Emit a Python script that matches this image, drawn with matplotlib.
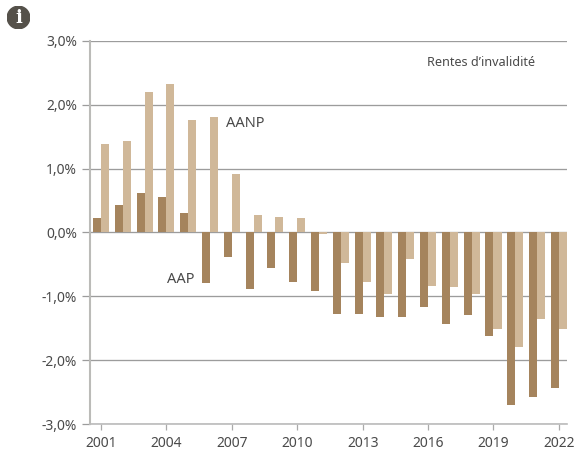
import matplotlib.pyplot as plt
import numpy as np
from matplotlib.patches import Circle

years = np.arange(2001, 2023)
aap = [0.22, 0.43, 0.62, 0.55, 0.30, -0.79, -0.38, -0.89, -0.55, -0.77, -0.91,
       -1.27, -1.27, -1.32, -1.33, -1.16, -1.43, -1.30, -1.62, -2.71, -2.57, -2.43]
aanp = [1.38, 1.44, 2.20, 2.33, 1.77, 1.81, 0.92, 0.28, 0.24, 0.23, -0.02,
        -0.47, -0.78, -0.97, -0.41, -0.84, -0.86, -0.96, -1.51, -1.79, -1.35, -1.51]
yticks = [3, 2, 1, 0, -1, -2, -3]
ylabels = ['3,0%', '2,0%', '1,0%', '0,0%', '-1,0%', '-2,0%', '-3,0%']
xticks = [2001, 2004, 2007, 2010, 2013, 2016, 2019, 2022]

plt.rcParams['font.family'] = ['Noto Sans', 'DejaVu Sans']
text_col = '#4a4a4a'

fig = plt.figure(figsize=(5.74, 4.5), dpi=100)
ax = fig.add_axes([90 / 574, 26 / 450, 477 / 574, 383 / 450])

w = 0.367
ax.yaxis.grid(True, color='#9c9c9c', lw=0.95)
ax.set_axisbelow(True)
ax.bar(years - w / 2, aap, w, color='#a5845d', zorder=3)
ax.bar(years + w / 2, aanp, w, color='#d0b899', zorder=2)

ax.set_xlim(2000.5, 2022.37)
ax.set_ylim(-3, 3)
ax.set_yticks(yticks)
ax.set_yticklabels(ylabels)
ax.set_xticks(xticks)
ax.tick_params(axis='y', length=5.8, width=0.9, color='#9c9c9c', labelsize=10,
               labelcolor=text_col, pad=3.6)
ax.tick_params(axis='x', length=4.3, width=0.9, color='#aaaaaa', labelsize=10,
               labelcolor=text_col, pad=4.2)

for s in ['top', 'right']:
    ax.spines[s].set_visible(False)
ax.spines['left'].set_color('#bbbbb8')
ax.spines['left'].set_linewidth(1.5)
ax.spines['bottom'].set_color('#bbbbbb')
ax.spines['bottom'].set_linewidth(1.2)

ax.text(2006.75, 1.71, 'AANP', fontsize=10.5, color=text_col, ha='left', va='center')
ax.text(2004.05, -0.74, 'AAP', fontsize=10.5, color=text_col, ha='left', va='center')
ax.text(2015.95, 2.66, 'Rentes d’invalidité', fontsize=9.1, color=text_col, ha='left', va='center')

# info icon
icon = fig.add_axes([7 / 574, 1 - 29 / 450, 23 / 574, 23 / 450])
icon.set_xlim(-1.02, 1.02)
icon.set_ylim(-1.02, 1.02)
icon.axis('off')
icon.add_patch(Circle((0, 0), 1, color='#55514a'))
icon.text(0, -0.05, 'i', color='white', fontsize=13, fontweight='bold',
          family='DejaVu Serif', ha='center', va='center')

fig.savefig('out.png', dpi=100)
